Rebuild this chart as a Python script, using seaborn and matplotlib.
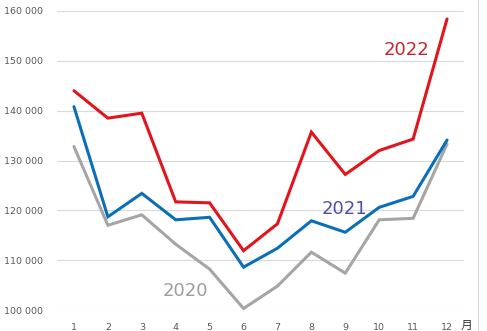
import matplotlib
matplotlib.use("Agg")
import matplotlib.pyplot as plt
import seaborn as sns
import pandas as pd

months = list(range(1, 13))
years = ["2020", "2021", "2022"]
values_2020 = [132800, 117000, 119100, 113200, 108200, 100300, 104800, 111600, 107400, 118100, 118400, 133300]
values_2021 = [140800, 118700, 123400, 118100, 118600, 108600, 112400, 117900, 115600, 120600, 122800, 134100]
values_2022 = [144000, 138500, 139500, 121700, 121500, 111900, 117300, 135700, 127200, 132000, 134300, 158400]
y_ticks = [100000, 110000, 120000, 130000, 140000, 150000, 160000]

df = pd.DataFrame({
    "month": months * 3,
    "year": [y for y in years for _ in months],
    "value": values_2020 + values_2021 + values_2022,
})

sns.set_theme(style="white")
plt.rcParams["font.family"] = ["DejaVu Sans", "Noto Sans CJK JP"]

palette = {"2020": "#A5A5A5", "2021": "#0A6FB8", "2022": "#E3141B"}
label_colors = {"2020": "#A09C9C", "2021": "#4E4FA3", "2022": "#C8262E"}

fig = plt.figure(figsize=(4.87, 3.31), dpi=100)
ax = fig.add_axes([57 / 487, 1 - 310 / 331, (464 - 57) / 487, (310 - 11) / 331])

sns.lineplot(data=df, x="month", y="value", hue="year", hue_order=years,
             palette=palette, linewidth=2.2, legend=False, ax=ax)
for line in ax.lines:
    line.set_clip_on(False)
    line.set_solid_joinstyle("miter")

ax.set_xlim(0.5, 12.5)
ax.set_ylim(100000, 160000)
ax.set_xticks(months)
ax.set_yticks(y_ticks)
ax.set_yticklabels([f"{v // 1000} 000" for v in y_ticks])
ax.tick_params(axis="both", length=0, labelsize=6.8, colors="#595959")
ax.tick_params(axis="y", pad=10)
ax.tick_params(axis="x", pad=9)
ax.set_xlabel("")
ax.set_ylabel("")
for s in ax.spines.values():
    s.set_visible(False)
ax.grid(axis="y", color="#D9D9D9", linewidth=0.8)
ax.set_axisbelow(True)

# series labels
ax.text(10.14, 152200, "2022", color=label_colors["2022"], fontsize=13, ha="left", va="center")
ax.text(8.31, 120200, "2021", color=label_colors["2021"], fontsize=13, ha="left", va="center")
ax.text(3.61, 103800, "2020", color=label_colors["2020"], fontsize=13, ha="left", va="center")

# unit label and chart border
fig.text(466.5 / 487, 1 - 325 / 331, "月", fontsize=8.5, color="#333333",
         ha="center", va="center", family=["Noto Sans CJK JP", "DejaVu Sans"])
fig.add_artist(plt.Line2D([477.5 / 487, 477.5 / 487], [0, 1], color="#D9D9D9", linewidth=0.8))

fig.savefig("out.png", dpi=100)
